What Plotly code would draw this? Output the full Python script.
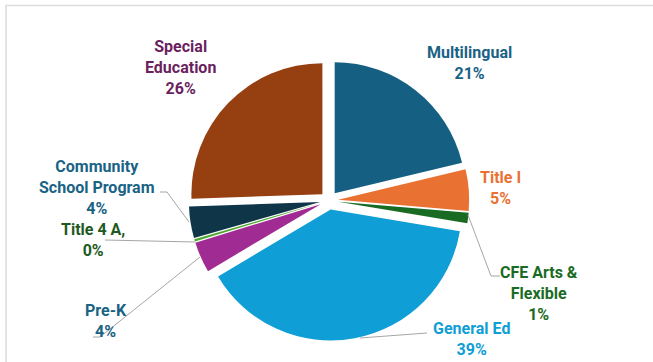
import plotly.graph_objects as go

W, H = 653, 362

categories = ["Multilingual", "Title I", "CFE Arts & Flexible", "General Ed",
              "Pre-K", "Title 4 A", "Community School Program", "Special Education"]
values = [21.3, 5.1, 1.3, 38.9, 3.8, 0.3, 3.9, 25.6]
pct_labels = ["21%", "5%", "1%", "39%", "4%", "0%", "4%", "26%"]
label_text = ["Multilingual", "Title I", "CFE Arts &<br>Flexible", "General Ed",
              "Pre-K", "Title 4 A,", "Community<br>School Program", "Special<br>Education"]

slice_colors = ["#156082", "#E97132", "#196B24", "#0F9ED5",
                "#A02B93", "#4EA72E", "#0F3549", "#963F10"]
label_colors = ["#1A6385", "#E97132", "#196B24", "#0F9ED5",
                "#1A6385", "#1E5A22", "#1A6385", "#6B1F5F"]
# label block centres (pixels)
label_pos = [(469, 63), (501, 188), (539, 293), (471, 339),
             (106, 321), (93, 239.5), (97, 187.5), (180, 67)]


def px(x, y):
    return x / W, 1 - y / H


fig = go.Figure()

# pie geometry: centre (329,200.5), radius ~131, pull 0.07
pull = 0.07
half = 131 * (1 + pull)
cx, cy = 329, 200.5
fig.add_trace(go.Pie(
    labels=categories, values=values, sort=False, direction="clockwise",
    rotation=0, pull=pull, textinfo="none", hoverinfo="label+percent",
    marker=dict(colors=slice_colors, line=dict(width=0)),
    showlegend=False,
    domain=dict(x=[(cx - half) / W, (cx + half) / W],
                y=[1 - (cy + half) / H, 1 - (cy - half) / H]),
))

# leader lines (pixel paths)
leaders = [
    [(160, 192), (167, 192), (189, 222)],
    [(105, 240), (195, 242)],
    [(93, 337), (100, 337), (200, 257)],
    [(468, 215), (491, 276), (500, 276)],
    [(360, 338), (427, 333)],
]
for pts in leaders:
    path = ""
    for i, (x, y) in enumerate(pts):
        X, Y = px(x, y)
        path += ("M" if i == 0 else " L") + f" {X} {Y}"
    fig.add_shape(type="path", path=path, xref="paper", yref="paper",
                  line=dict(color="#A6A6A6", width=1))

for txt, pct, col, (x, y) in zip(label_text, pct_labels, label_colors, label_pos):
    X, Y = px(x, y)
    fig.add_annotation(text=f"{txt}<br>{pct}", x=X, y=Y, xref="paper", yref="paper",
                       xanchor="center", yanchor="middle", showarrow=False,
                       align="center",
                       font=dict(family="Roboto", size=16, color=col, weight="bold"))

# chart frame
x0, y0 = px(6, 5.5)
fig.add_shape(type="rect", xref="paper", yref="paper", x0=x0, y0=-0.1, x1=1.1, y1=y0,
              line=dict(color="#DCDCDC", width=1.5), layer="below")

fig.update_layout(width=W, height=H, margin=dict(l=0, r=0, t=0, b=0),
                  paper_bgcolor="white", plot_bgcolor="white")

fig.write_html("out.html")
